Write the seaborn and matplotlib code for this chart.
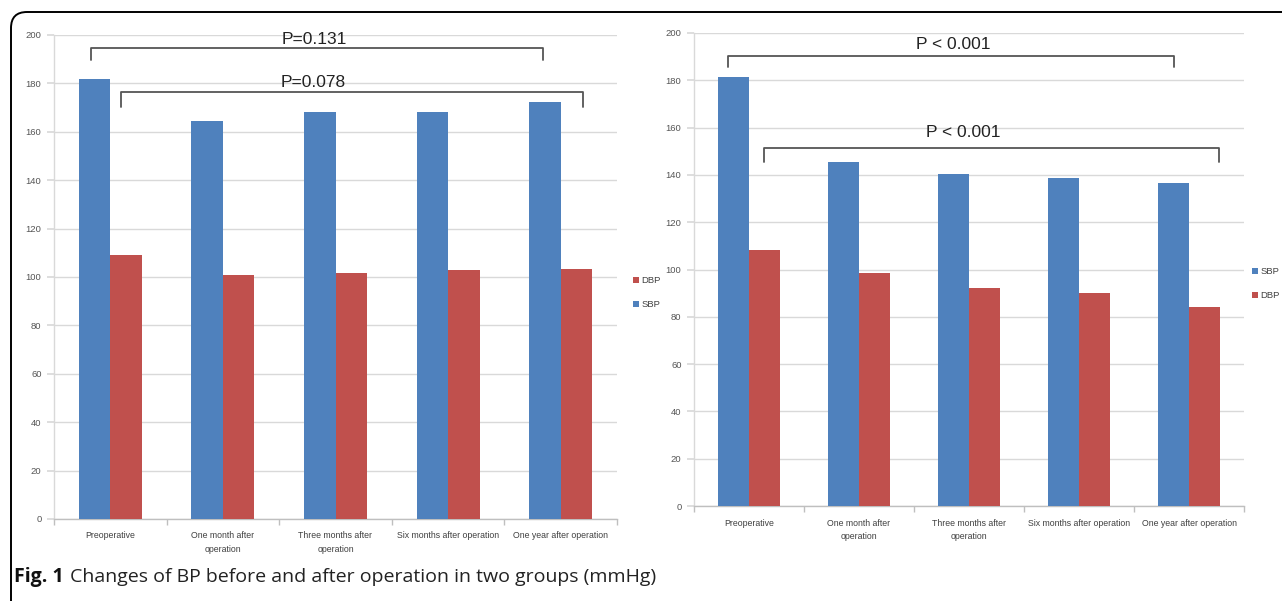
import matplotlib
matplotlib.use("Agg")
import matplotlib.pyplot as plt
from matplotlib.patches import Patch, FancyBboxPatch
import seaborn as sns
import pandas as pd

# Blood pressure (mmHg) at each follow-up point, two groups
periods = ["Preoperative", "One month after\noperation", "Three months after\noperation",
           "Six months after operation", "One year after operation"]
group1_sbp = [181.8, 164.5, 168.0, 168.2, 172.3]
group1_dbp = [109.0, 101.0, 101.5, 102.7, 103.5]
group2_sbp = [181.4, 145.3, 140.5, 138.8, 136.6]
group2_dbp = [108.2, 98.5, 92.2, 90.0, 84.1]

# Significance brackets: (left x, right x, bar y, foot y, label, label x, label y)
group1_brackets = [(-0.17, 3.84, 194.6, 189.7, "P=0.131", 1.81, 198.3),
                   (0.095, 4.20, 176.4, 170.2, "P=0.078", 1.80, 180.2)]
group2_brackets = [(-0.19, 3.86, 190.3, 185.6, "P < 0.001", 1.86, 195.3),
                   (0.14, 4.27, 151.4, 145.5, "P < 0.001", 1.95, 158.1)]

SBP_COLOR = "#4F81BD"
DBP_COLOR = "#C0504D"
GRID = "#d9d9d9"
TICK_FONT = ["Liberation Sans Narrow", "Liberation Sans", "DejaVu Sans"]
P_FONT = ["Liberation Sans Narrow", "Liberation Sans", "DejaVu Sans"]
TICK_SIZE = 6.3

sns.set_theme(style="white")
plt.rcParams["font.family"] = ["Liberation Sans", "DejaVu Sans"]

W, H = 1282, 601
fig = plt.figure(figsize=(W / 100, H / 100), dpi=100)
fig.patch.set_facecolor("white")


def frame(sbp, dbp):
    return pd.DataFrame({
        "period": periods * 2,
        "kind": ["SBP"] * len(periods) + ["DBP"] * len(periods),
        "value": list(sbp) + list(dbp),
    })


def panel(rect, sbp, dbp, brackets, legend_order, legend_xy):
    ax = fig.add_axes(rect)
    sns.barplot(data=frame(sbp, dbp), x="period", y="value", hue="kind",
                hue_order=["SBP", "DBP"], order=periods,
                palette={"SBP": SBP_COLOR, "DBP": DBP_COLOR},
                width=0.56, saturation=1, legend=False, ax=ax, zorder=3,
                linewidth=0, edgecolor="none")
    ax.set_ylim(0, 200)
    ax.set_xlim(-0.5, len(periods) - 0.5)
    ax.set_yticks(range(0, 201, 20))
    ax.set_xlabel("")
    ax.set_ylabel("")
    ax.yaxis.grid(True, color=GRID, lw=1.0, zorder=0)
    ax.set_axisbelow(True)
    for s in ["top", "right"]:
        ax.spines[s].set_visible(False)
    ax.spines["left"].set_color(GRID)
    ax.spines["bottom"].set_color("#bfbfbf")
    ax.spines["left"].set_linewidth(1.0)
    ax.spines["bottom"].set_linewidth(1.0)

    # category labels centred, tick marks between categories
    ax.set_xticks(range(len(periods)))
    ax.set_xticklabels(periods, fontsize=TICK_SIZE, color="#404040", family=TICK_FONT,
                       linespacing=1.6)
    ax.tick_params(axis="x", length=0, pad=9)
    ax.set_xticks([i + 0.5 for i in range(-1, len(periods))], minor=True)
    ax.tick_params(axis="x", which="minor", length=4, color="#bfbfbf", direction="out",
                   bottom=True)
    ax.tick_params(axis="y", length=5, color=GRID, direction="out", left=True,
                   labelsize=TICK_SIZE + 0.5, labelcolor="#555555", pad=4)
    for lab in ax.get_yticklabels():
        lab.set_family(TICK_FONT)

    for x0, x1, yt, yf, txt, tx, ty in brackets:
        ax.plot([x0, x0, x1, x1], [yf, yt, yt, yf], color="#555555", lw=1.3,
                zorder=4, clip_on=False)
        ax.text(tx, ty, txt, ha="center", va="center", fontsize=12.5,
                family=P_FONT, color="#222222", zorder=5)

    handles = [Patch(facecolor=SBP_COLOR if k == "SBP" else DBP_COLOR, edgecolor="none")
               for k in legend_order]
    ax.legend(handles, legend_order, loc="upper left",
              bbox_to_anchor=legend_xy, bbox_transform=fig.transFigure,
              frameon=False, handlelength=0.6, handleheight=0.6,
              handletextpad=0.3, labelspacing=1.6, borderpad=0, borderaxespad=0,
              prop={"family": TICK_FONT, "size": TICK_SIZE + 0.5}, labelcolor="#404040")
    return ax


def px_rect(x0, x1, ytop, ybot):
    return [x0 / W, (H - ybot) / H, (x1 - x0) / W, (ybot - ytop) / H]


panel(px_rect(54, 617, 35, 519), group1_sbp, group1_dbp, group1_brackets,
      ["DBP", "SBP"], (633 / W, (H - 276) / H))
panel(px_rect(694, 1244, 33, 506), group2_sbp, group2_dbp, group2_brackets,
      ["SBP", "DBP"], (1252 / W, (H - 267) / H))

# rounded outer frame, open to the right and bottom
border = FancyBboxPatch((11, -40), W + 60, H - 12 + 40,
                        boxstyle="round,pad=0,rounding_size=16",
                        transform=None, facecolor="none", edgecolor="black",
                        lw=1.4, zorder=10)
fig.patches.append(border)

# figure caption: bold label followed by the regular text
CAP_FONT = ["Open Sans", "DejaVu Sans"]
cap_y = (H - 577) / H
bold = fig.text(14 / W, cap_y, "Fig. 1", fontsize=14, fontweight="bold", va="center",
                ha="left", family=CAP_FONT, color="#111111")
fig.canvas.draw()
bb = bold.get_window_extent(renderer=fig.canvas.get_renderer())
fig.text((bb.x1 + 6) / W, cap_y,
         "Changes of BP before and after operation in two groups (mmHg)",
         fontsize=14, va="center", ha="left", family=CAP_FONT, color="#222222")

fig.savefig("out.png", dpi=100, facecolor="white")
